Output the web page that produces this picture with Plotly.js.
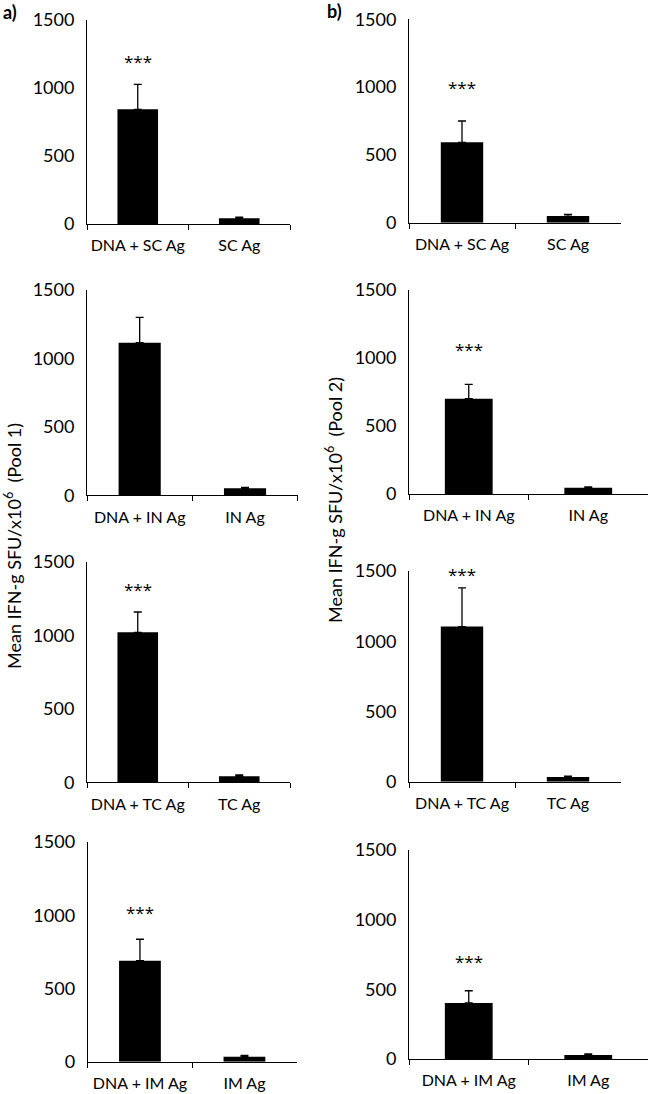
<!DOCTYPE html>
<html>
<head>
<meta charset="utf-8">
<script src="https://cdn.plot.ly/plotly-3.0.1.min.js"></script>
<style>
html,body{margin:0;padding:0;background:#fff;}
#chart{width:650px;height:1094px;}
</style>
</head>
<body>
<div id="chart"></div>
<script>
// ---- data ----
const labelsDNA = ["DNA + SC Ag", "DNA + IN Ag", "DNA + TC Ag", "DNA + IM Ag"];
const labelsAg  = ["SC Ag", "IN Ag", "TC Ag", "IM Ag"];
const pool1Mean = [[843, 42], [1115, 51], [1020, 41], [690, 34]];
const pool1Err  = [[184, 9], [185, 7], [138, 9], [146, 9]];
const pool2Mean = [[593, 49], [701, 46], [1104, 33], [402, 29]];
const pool2Err  = [[157, 13], [105, 7], [276, 7], [88, 7]];
const pool1Star = [1220, 1510, 1330, 1040];
const pool2Star = [1020, 1088, 1500, 723];
const yTicks = [0, 500, 1000, 1500];
const starText = "***";
const panelLabels = ["a)", "b)"];
const yTitle1 = "Mean IFN-g SFU/x10<sup>6</sup>  (Pool 1)";
const yTitle2 = "Mean IFN-g SFU/x10<sup>6</sup>  (Pool 2)";

// ---- layout geometry (pixels) ----
const W = 650, H = 1094;
// [left, right, top, bottom] of each plot area
const boxes1 = [[87, 290, 20, 224], [87, 297.7, 290, 495.3], [87, 290, 561.7, 782.3], [87.7, 296.7, 842, 1061.7]];
const boxes2 = [[409, 621, 19.3, 222.7], [409, 648, 290, 494], [409, 621, 571, 781.7], [409, 648, 850, 1059]];

const FONT = "Lato, 'Open Sans', sans-serif";
const STARFONT = "'Open Sans', sans-serif";
const traces = [];
const layout = {
  width: W, height: H,
  margin: {l: 0, r: 0, t: 0, b: 0},
  paper_bgcolor: "#fff", plot_bgcolor: "#fff",
  showlegend: false,
  font: {family: FONT, color: "#000", size: 16},
  bargap: 0.6,
  annotations: []
};

let idx = 0;
function addPanel(box, means, errs, cats, star) {
  idx++;
  const xa = "x" + (idx === 1 ? "" : idx), ya = "y" + (idx === 1 ? "" : idx);
  const xk = "xaxis" + (idx === 1 ? "" : idx), yk = "yaxis" + (idx === 1 ? "" : idx);
  traces.push({
    type: "bar", x: cats, y: means, xaxis: xa, yaxis: ya,
    marker: {color: "#000", line: {width: 0}},
    error_y: {type: "data", symmetric: false, array: errs, arrayminus: [0, 0],
              color: "#000", thickness: 1.3, width: 4},
    hoverinfo: "skip"
  });
  layout[xk] = {
    domain: [box[0] / W, box[1] / W], anchor: ya,
    type: "category", range: [-0.5, 1.5], fixedrange: true,
    showline: true, linecolor: "#000", linewidth: 1,
    ticks: "outside", tickson: "boundaries", ticklen: 5, tickcolor: "#000", tickwidth: 1,
    showgrid: false, zeroline: false, tickangle: 0, automargin: false,
    ticklabelstandoff: 7,
    tickfont: {family: FONT, size: 16, color: "#000"}
  };
  layout[yk] = {
    domain: [1 - box[3] / H, 1 - box[2] / H], anchor: xa,
    range: [0, 1500], tickvals: yTicks, ticktext: yTicks.map(String),
    showline: true, linecolor: "#000", linewidth: 1,
    ticks: "", showgrid: false, zeroline: false, fixedrange: true, automargin: false,
    ticklabelstandoff: 8,
    tickfont: {family: FONT, size: 18, color: "#000"}
  };
  layout.annotations.push({
    xref: xa, yref: ya, x: cats[0], y: star, text: starText,
    showarrow: false, xanchor: "center", yanchor: "middle", yshift: -3,
    font: {family: STARFONT, size: 17, color: "#000"}
  });
}

for (let i = 0; i < 4; i++) {
  addPanel(boxes1[i], pool1Mean[i], pool1Err[i], [labelsDNA[i], labelsAg[i]], pool1Star[i]);
}
for (let i = 0; i < 4; i++) {
  addPanel(boxes2[i], pool2Mean[i], pool2Err[i], [labelsDNA[i], labelsAg[i]], pool2Star[i]);
}

layout.annotations.push(
  {xref: "paper", yref: "paper", x: 1 / W, y: 1 - 12 / H, text: "<b>" + panelLabels[0] + "</b>",
   showarrow: false, xanchor: "left", yanchor: "middle", font: {family: FONT, size: 18, color: "#000"}},
  {xref: "paper", yref: "paper", x: 325 / W, y: 1 - 11 / H, text: "<b>" + panelLabels[1] + "</b>",
   showarrow: false, xanchor: "left", yanchor: "middle", font: {family: FONT, size: 18, color: "#000"}},
  {xref: "paper", yref: "paper", x: 13 / W, y: 1 - 546 / H, text: yTitle1, textangle: -90,
   showarrow: false, xanchor: "center", yanchor: "middle", font: {family: FONT, size: 18, color: "#000"}},
  {xref: "paper", yref: "paper", x: 334 / W, y: 1 - 500 / H, text: yTitle2, textangle: -90,
   showarrow: false, xanchor: "center", yanchor: "middle", font: {family: FONT, size: 18, color: "#000"}}
);

Plotly.newPlot("chart", traces, layout, {staticPlot: true, displayModeBar: false});
</script>
</body>
</html>
